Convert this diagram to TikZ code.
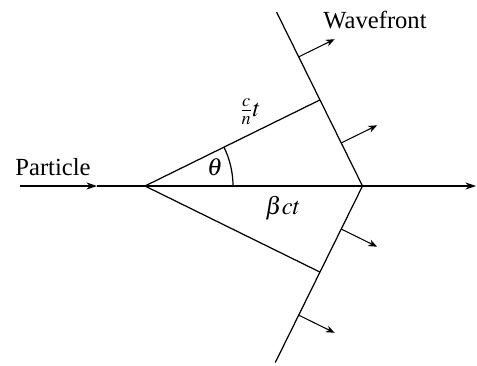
\documentclass[tikz,border=0pt]{standalone}
\usepackage{mathptmx}
\usepackage{fontspec}
\setmainfont{Liberation Serif}
\usetikzlibrary{arrows.meta, calc}

\begin{document}
\begin{tikzpicture}[
  font=\fontsize{14}{16}\selectfont,
  line/.style={line width=0.7pt},
  arrow/.style={-{Stealth[length=6pt,width=4pt]}, line width=0.7pt},
  push/.style={-{Stealth[length=5pt,width=4pt]}, line width=0.6pt}
]
  \useasboundingbox (-2.9,-3.58) rectangle (6.64,3.72);

  \coordinate (src)    at (0,0);
  \coordinate (apex)   at (4.35,0);
  \coordinate (upfoot) at (26.2:3.9);
  \coordinate (lofoot) at (-26.2:3.9);
  \coordinate (uptop)  at ($(apex)!2.02!(upfoot)$);
  \coordinate (lobot)  at ($(apex)!2.05!(lofoot)$);
  \coordinate (start)  at (-2.5,0);
  \coordinate (mid)    at (-0.96,0);
  \coordinate (end)    at (6.62,0);

  \draw[arrow] (start) -- (mid);
  \draw[arrow] (mid) -- (end);
  \draw[line] (src) -- (upfoot);
  \draw[line] (src) -- (lofoot);
  \draw[line] (uptop) -- (apex) -- (lobot);
  \draw[line] (1.76,0) arc[start angle=0, end angle=26.2, radius=1.76];

  \foreach \f/\a in {upfoot/26.2, lofoot/-26.2}
    \foreach \k in {0.5,1.5} {
      \coordinate (tail) at ($(apex)!\k!(\f)$);
      \coordinate (head) at ($(tail)+(\a:0.8)$);
      \draw[push] (tail) -- (head);
    }

  \node (particle)  at (-1.84,0.38) {Particle};
  \node (wavefront) at (4.6,3.32)   {Wavefront};
  \node (speed)     at (2.1,1.48)   {$\frac{c}{n}t$};
  \node (angle)     at (1.4,0.38)   {$\theta$};
  \node (dist)      at (2.76,-0.44) {$\beta ct$};
\end{tikzpicture}
\end{document}
